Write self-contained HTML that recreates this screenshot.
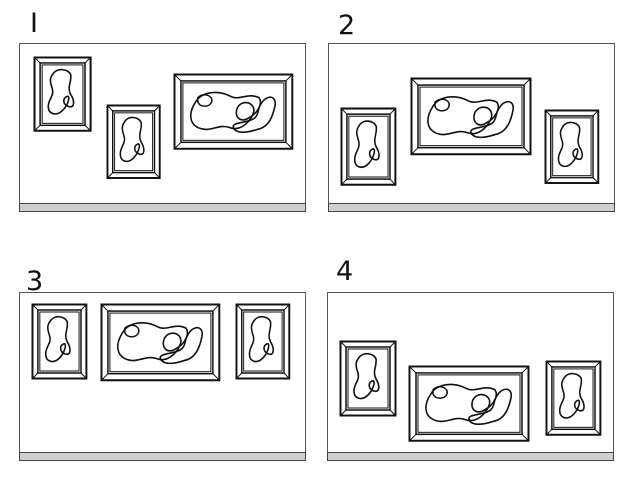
<!DOCTYPE html>
<html><head><style>
html,body{margin:0;padding:0;background:#fff}
svg{display:block}
text{font-family:"DejaVu Sans","Liberation Sans",sans-serif;font-size:27px;fill:#111}
</style></head><body>
<svg width="640" height="480" viewBox="0 0 640 480" xmlns="http://www.w3.org/2000/svg">
<defs>
<g id="pf" fill="none" stroke="#111">
  <rect x="0.5" y="0.5" width="55" height="74" stroke-width="2"/>
  <rect x="6" y="6" width="44" height="63" stroke-width="1.5"/>
  <rect x="8" y="8" width="40" height="59" stroke-width="1"/>
  <path d="M1 1L6 6M55 1L50 6M1 74L6 69M55 74L50 69" stroke-width="1"/>
  <path d="M18 18C22 10 34 12 36 18C37 26 32 30 36 38C40 44 40 52 34 50C28 48 28 42 32 40C36 38 34 48 28 54C22 60 14 58 14 50C14 42 20 40 18 32C16 26 15 22 18 18Z" stroke-width="1.6"/>
</g>
<g id="lf" fill="none" stroke="#111">
  <rect x="0.5" y="0.5" width="119" height="75" stroke-width="2"/>
  <rect x="7" y="7" width="106" height="62" stroke-width="1.5"/>
  <rect x="9" y="9" width="102" height="58" stroke-width="1"/>
  <path d="M1 1L7 7M119 1L113 7M1 75L7 69M119 75L113 69" stroke-width="1"/>
  <path d="M22 28C28 18 44 16 56 22C66 28 74 18 86 24C90 30 84 40 76 44C68 50 60 44 64 34C70 24 84 30 80 40C76 50 66 58 56 54C44 50 36 60 24 54C16 50 14 40 22 28Z" stroke-width="1.6"/>
  <path d="M24 24C30 18 40 22 38 28C36 34 26 34 24 28Z" stroke-width="1.5"/>
  <path d="M88 30C94 20 104 22 102 32C100 42 96 54 84 56C72 60 62 60 60 54C58 48 76 50 82 44C86 40 84 36 88 30Z" stroke-width="1.6"/>
</g>
<g id="wall">
  <rect x="0.5" y="0.5" width="286" height="168" fill="#fff" stroke="#555" stroke-width="1"/>
  <rect x="0.5" y="160.5" width="286" height="8" fill="#cfcfcf" stroke="#444" stroke-width="1"/>
</g>
</defs>

<text x="30" y="32">I</text>
<use href="#wall" x="19" y="43"/>
<use href="#pf" transform="translate(34,57) scale(1.02,0.99)"/>
<use href="#pf" transform="translate(107,105) scale(0.95,0.98)"/>
<use href="#lf" transform="translate(174,74) scale(0.99,0.99)"/>

<text x="338" y="34">2</text>
<use href="#wall" x="328" y="43"/>
<use href="#pf" transform="translate(341,108) scale(0.98,1.03)"/>
<use href="#lf" transform="translate(411,78) scale(1,1.01)"/>
<use href="#pf" transform="translate(545,110) scale(0.96,0.98)"/>

<text x="26" y="290">3</text>
<use href="#wall" x="19" y="292"/>
<use href="#pf" transform="translate(32,304) scale(0.98,1)"/>
<use href="#lf" transform="translate(101,304) scale(0.99,1.01)"/>
<use href="#pf" transform="translate(236,304) scale(0.96,1)"/>

<text x="336" y="280">4</text>
<use href="#wall" x="327" y="292"/>
<use href="#pf" transform="translate(340,341) scale(1,1)"/>
<use href="#lf" transform="translate(409,366) scale(1,0.99)"/>
<use href="#pf" transform="translate(546,361) scale(0.98,0.99)"/>
</svg>
</body></html>
